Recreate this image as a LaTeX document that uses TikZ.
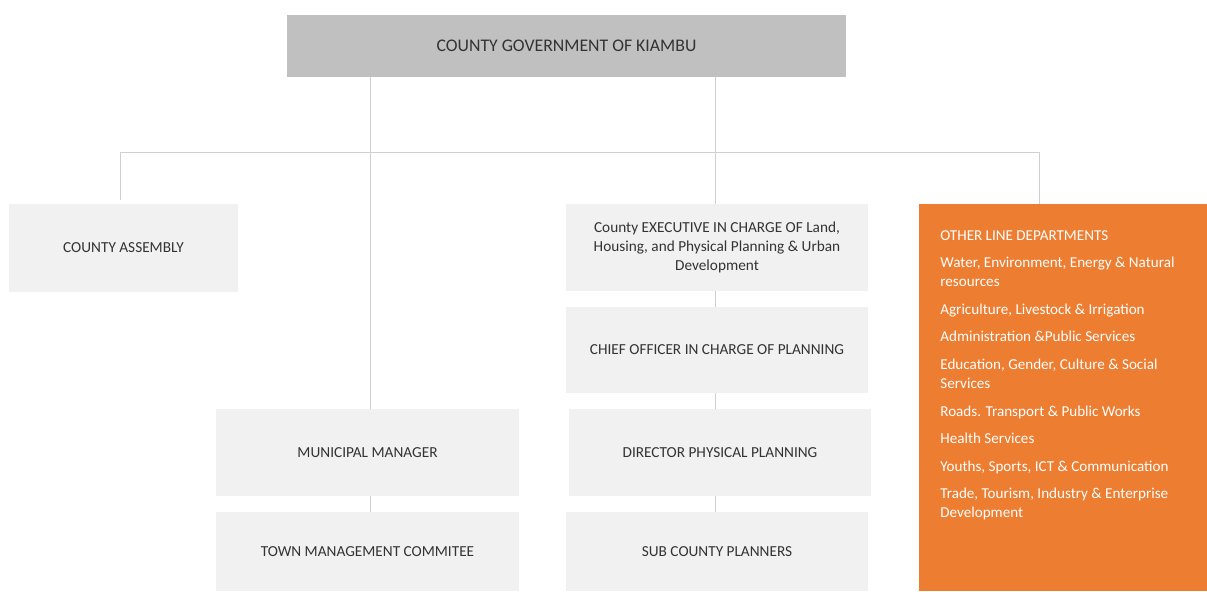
\documentclass[tikz,border=0pt]{standalone}
\usepackage{fontspec}
\setmainfont{Carlito}
\usepackage{tikz}
\usetikzlibrary{positioning, calc}
\usepackage{xcolor}
\definecolor{govgrey}{HTML}{C0C0C0}
\definecolor{boxgrey}{HTML}{F1F1F1}
\definecolor{linegrey}{HTML}{D0D0D0}
\definecolor{textgrey}{HTML}{333333}
\definecolor{deptorange}{HTML}{ED7D31}
\tikzset{
  govbox/.style={rectangle, fill=govgrey, minimum width=11.18cm, minimum height=1.24cm,
                 align=center, text=textgrey, font=\fontsize{10.1}{12}\selectfont},
  unitbox/.style={rectangle, fill=boxgrey, minimum width=6.04cm, minimum height=1.74cm,
                  align=center, text=textgrey, font=\fontsize{8.7}{10.8}\selectfont},
  deptbox/.style={rectangle, fill=deptorange, minimum width=5.76cm, minimum height=7.74cm},
  depttext/.style={anchor=north west, inner sep=0pt, align=left, text=white,
                   font=\fontsize{8.6}{10.8}\selectfont},
  orgline/.style={draw=linegrey, line width=0.5pt},
}

\begin{document}
\begin{tikzpicture}
  \useasboundingbox[fill=white] (0,0) rectangle (24.14,-11.82);

  \node[govbox] (gov) at (11.33,-0.92) {COUNTY GOVERNMENT OF KIAMBU};
  \node[unitbox, minimum width=4.58cm, minimum height=1.76cm] (assembly) at (2.47,-4.96) {COUNTY ASSEMBLY};
  \node[unitbox, minimum width=6.06cm] (mm) at (7.35,-9.05) {MUNICIPAL MANAGER};
  \node[unitbox, minimum width=6.06cm, minimum height=1.58cm] (town) at (7.35,-11.03) {TOWN MANAGEMENT COMMITEE};
  \node[unitbox] (exec) at (14.34,-4.95) {County EXECUTIVE IN CHARGE OF Land,\\Housing, and Physical Planning \& Urban\\Development};
  \node[unitbox, minimum height=1.72cm] (chief) at (14.34,-7.00) {CHIEF OFFICER IN CHARGE OF PLANNING};
  \node[unitbox] (director) at (14.40,-9.05) {DIRECTOR PHYSICAL PLANNING};
  \node[unitbox, minimum height=1.58cm] (sub) at (14.34,-11.03) {SUB COUNTY PLANNERS};
  \node[deptbox] (other) at (21.26,-7.95) {};
  \node[depttext] (deptlist) at (18.80,-4.60) {OTHER LINE DEPARTMENTS\\[4.9pt]
    Water, Environment, Energy \& Natural\\resources\\[4.9pt]
    Agriculture, Livestock \& Irrigation\\[4.9pt]
    Administration \&Public Services\\[4.9pt]
    Education, Gender, Culture \& Social\\Services\\[4.9pt]
    Roads. Transport \& Public Works\\[4.9pt]
    Health Services\\[4.9pt]
    Youths, Sports, ICT \& Communication\\[4.9pt]
    Trade, Tourism, Industry \& Enterprise\\Development};

  % bus line
  \coordinate (busL) at (2.40,-3.04);
  \coordinate (busR) at (20.78,-3.04);
  \draw[orgline] (busL) -- (busR);
  \draw[orgline] (busL) -- ($(busL |- assembly.north)+(0,0.08)$);
  \draw[orgline] (busR) -- (busR |- other.north);

  % drops from the top box
  \coordinate (mmx) at (7.40,0);
  \coordinate (execx) at (14.30,0);
  \draw[orgline] (gov.south -| mmx) -- (mm.north -| mmx);
  \draw[orgline] (gov.south -| execx) -- (exec.north -| execx);
  \draw[orgline] (mm.south -| mmx) -- (town.north -| mmx);
  \draw[orgline] (exec.south -| execx) -- (chief.north -| execx);
  \draw[orgline] (chief.south -| execx) -- (director.north -| execx);
  \draw[orgline] (director.south -| execx) -- (sub.north -| execx);
\end{tikzpicture}
\end{document}
